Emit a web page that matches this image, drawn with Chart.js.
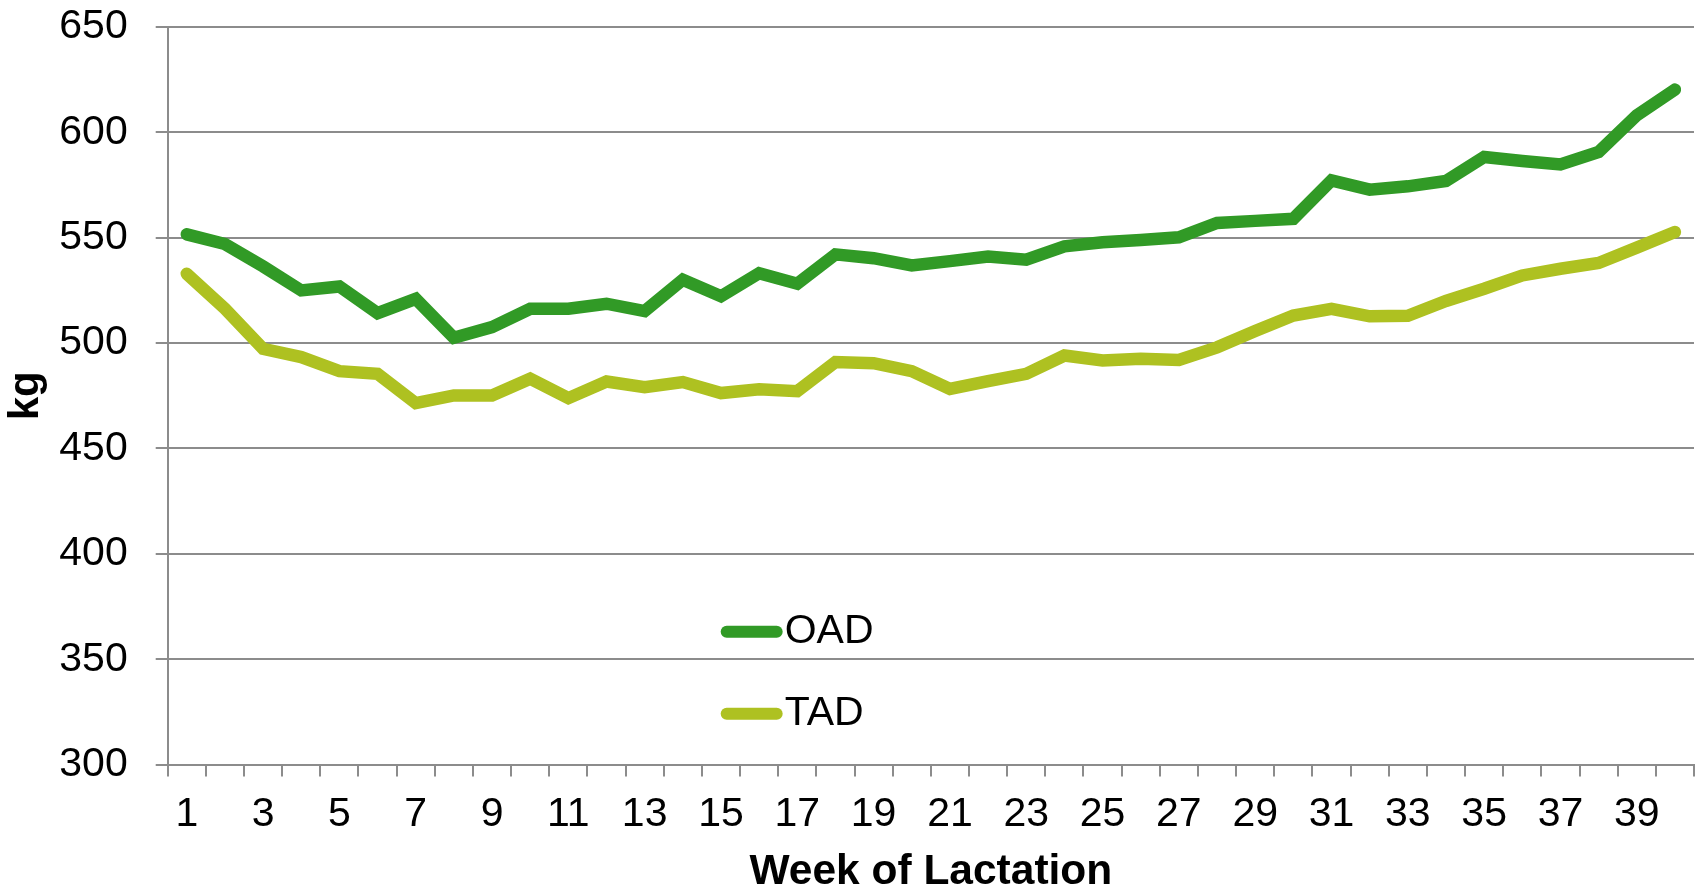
<!DOCTYPE html>
<html>
<head>
<meta charset="utf-8">
<script src="https://cdn.jsdelivr.net/npm/chart.js@4.4.1/dist/chart.umd.min.js"></script>
<style>
  html, body { margin: 0; padding: 0; background: #ffffff; }
  #wrap { width: 1698px; height: 889px; }
</style>
</head>
<body>
<div id="wrap"><canvas id="c" width="1698" height="889"></canvas></div>
<script>
const weeks = Array.from({length: 40}, (_, i) => String(i + 1));
const oad = [551.6, 547.0, 536.4, 525.0, 526.9, 514.2, 521.0, 502.5, 507.6, 516.3,
             516.3, 518.7, 515.2, 530.1, 522.2, 533.2, 528.2, 542.1, 540.3, 536.9,
             538.9, 541.1, 539.6, 545.9, 547.9, 548.9, 550.2, 557.0, 558.0, 559.0,
             577.2, 572.8, 574.4, 576.9, 588.3, 586.4, 584.8, 590.7, 608.1, 620.3];
const tad = [532.9, 516.3, 497.3, 493.4, 486.7, 485.4, 471.5, 475.2, 475.2, 483.1,
             473.9, 481.8, 479.1, 481.5, 476.3, 478.1, 477.2, 491.0, 490.5, 486.7,
             478.3, 482.0, 485.4, 494.1, 491.8, 492.6, 492.0, 498.0, 505.7, 513.1,
             516.3, 512.7, 513.0, 520.0, 525.8, 532.1, 535.3, 538.0, 545.3, 552.7];
const seriesNames = ['OAD', 'TAD'];
const seriesColors = ['#319a26', '#aec121'];
const yTitle = 'kg';
const xTitle = 'Week of Lactation';

const FONT = "'Liberation Sans', Arial, sans-serif";
const GRID = '#8c8c8c';

const insideLegend = {
  id: 'insideLegend',
  afterDatasetsDraw(chart) {
    const ctx = chart.ctx;
    const a = chart.chartArea;
    const x0 = a.left + (a.right - a.left) * 0.3623;
    const ys = [0.82, 0.931];
    ctx.save();
    chart.data.datasets.forEach((ds, i) => {
      const y = a.top + (a.bottom - a.top) * ys[i];
      ctx.strokeStyle = ds.borderColor;
      ctx.lineWidth = 12;
      ctx.lineCap = 'round';
      ctx.beginPath();
      ctx.moveTo(x0 + 6, y);
      ctx.lineTo(x0 + 56, y);
      ctx.stroke();
      ctx.fillStyle = '#000';
      ctx.font = '41px ' + FONT;
      ctx.textBaseline = 'middle';
      ctx.textAlign = 'left';
      ctx.fillText(ds.label, x0 + 64, y);
    });
    ctx.restore();
  }
};

new Chart(document.getElementById('c'), {
  type: 'line',
  data: {
    labels: weeks,
    datasets: [
      { label: seriesNames[0], data: oad, borderColor: seriesColors[0], backgroundColor: seriesColors[0] },
      { label: seriesNames[1], data: tad, borderColor: seriesColors[1], backgroundColor: seriesColors[1] }
    ]
  },
  options: {
    responsive: false,
    animation: false,
    devicePixelRatio: 1,
    layout: { padding: { left: 0, right: 4, top: 27, bottom: 0 } },
    elements: {
      line: { borderWidth: 12.5, borderCapStyle: 'round', borderJoinStyle: 'miter', tension: 0 },
      point: { radius: 0, hoverRadius: 0 }
    },
    plugins: {
      legend: { display: false },
      tooltip: { enabled: false }
    },
    scales: {
      x: {
        offset: true,
        grid: { display: true, offset: true, drawOnChartArea: false, drawTicks: true, tickLength: 12, color: GRID, lineWidth: 2 },
        border: { display: true, color: GRID, width: 2 },
        ticks: {
          autoSkip: false, maxRotation: 0, padding: 13, color: '#000',
          font: { family: FONT, size: 41 },
          callback: function(v, i) { return i % 2 === 0 ? this.getLabelForValue(v) : ''; }
        },
        title: { display: true, text: xTitle, color: '#000', font: { family: FONT, size: 42.5, weight: 'bold' }, padding: { top: 0, bottom: -9 } },
        afterFit(scale) { scale.height = 889 - 764.6; }
      },
      y: {
        min: 300, max: 650,
        grid: { color: GRID, lineWidth: 2, tickLength: 12, drawTicks: true },
        border: { display: true, color: GRID, width: 2 },
        ticks: { stepSize: 50, padding: 28, color: '#000', font: { family: FONT, size: 41 } },
        title: { display: true, text: yTitle, color: '#000', font: { family: FONT, size: 42, weight: 'bold' }, padding: { top: 1, bottom: 0 } },
        afterFit(scale) { scale.width = 167.7; scale.paddingTop = 0; scale.paddingBottom = 0; }
      }
    }
  },
  plugins: [insideLegend]
});
</script>
</body>
</html>
